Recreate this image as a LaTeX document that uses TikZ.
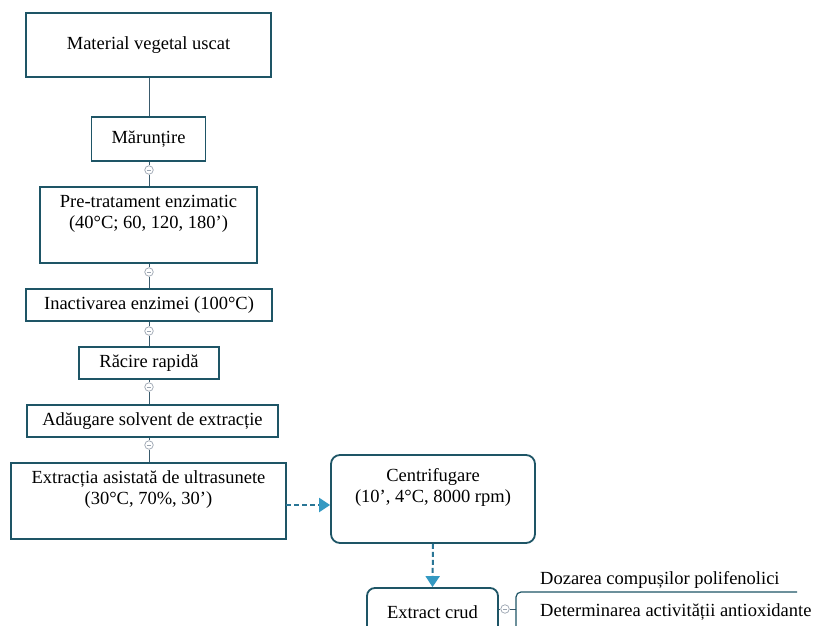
\documentclass[tikz,border=0pt]{standalone}
\usepackage{fontspec}
\setmainfont{Liberation Serif}
\usetikzlibrary{arrows.meta}
\definecolor{boxc}{HTML}{1E5566}
\definecolor{linec}{HTML}{3A5A6C}
\definecolor{dashc}{HTML}{2A7696}
\definecolor{headc}{HTML}{3499C2}
\definecolor{knobc}{HTML}{9AA4B0}
\tikzset{
  stepbox/.style={draw=boxc, line width=1.8pt, fill=white, align=center, inner sep=0pt, font=\fontsize{18.5}{20.5}\selectfont},
  roundbox/.style={stepbox, rounded corners=9pt},
  conn/.style={draw=linec, line width=0.9pt},
  knob/.style={circle, draw=knobc, fill=white, line width=0.7pt, minimum size=8.5pt, inner sep=0pt,
    path picture={\draw[knobc, line width=0.7pt] ([xshift=-2.2pt]path picture bounding box.center) -- ([xshift=2.2pt]path picture bounding box.center);}},
  dasharrow/.style={draw=dashc, line width=2pt, dash pattern=on 5pt off 3pt, -{Triangle[length=11pt,width=14pt,fill=headc,color=headc]}},
  plain/.style={font=\fontsize{18.5}{20.5}\selectfont, inner sep=0pt},
}
\begin{document}
\begin{tikzpicture}[x=1pt,y=-1pt]
\fill[white] (0,0) rectangle (816,626);
\useasboundingbox (0,0) rectangle (816,626);
\clip (0,0) rectangle (816,626);

\node[stepbox, minimum width=245pt, minimum height=64pt] (b1) at (148.5,45) {Material vegetal uscat};
\node[stepbox, minimum width=114pt, minimum height=44pt] (b2) at (148.5,139) {Mărunțire};
\node[stepbox, minimum width=217pt, minimum height=76pt] (b3) at (148.5,225) {Pre-tratament enzimatic\\(40°C; 60, 120, 180’)\\\strut};
\node[stepbox, minimum width=246pt, minimum height=32pt] (b4) at (149,305) {Inactivarea enzimei (100°C)};
\node[stepbox, minimum width=140pt, minimum height=32pt] (b5) at (149,363) {Răcire rapidă};
\node[stepbox, minimum width=251pt, minimum height=32pt] (b6) at (152.5,421) {Adăugare solvent de extracție};
\node[stepbox, minimum width=275pt, minimum height=76pt] (b7) at (148.5,501) {Extracția asistată de ultrasunete\\(30°C, 70\%, 30’)\\\strut};
\node[roundbox, minimum width=204pt, minimum height=88pt] (b8) at (433,499) {Centrifugare\\(10’, 4°C, 8000 rpm)\\\strut};
\node[roundbox, rounded corners=8pt, minimum width=131pt, minimum height=48pt] (b9) at (432.5,612) {Extract crud};

\node[knob] (k2) at (149,170) {};
\node[knob] (k3) at (149,272) {};
\node[knob] (k4) at (149,331) {};
\node[knob] (k5) at (149,387) {};
\node[knob] (k6) at (149,445) {};
\node[knob] (k9) at (505,609) {};

\draw[conn] (b1.south -| k2) -- (b2.north -| k2);
\draw[conn] (b2.south -| k2) -- (k2.north);
\draw[conn] (k2.south) -- (b3.north -| k2);
\draw[conn] (b3.south -| k3) -- (k3.north);
\draw[conn] (k3.south) -- (b4.north -| k3);
\draw[conn] (b4.south -| k4) -- (k4.north);
\draw[conn] (k4.south) -- (b5.north -| k4);
\draw[conn] (b5.south -| k5) -- (k5.north);
\draw[conn] (k5.south) -- (b6.north -| k5);
\draw[conn] (b6.south -| k6) -- (k6.north);
\draw[conn] (k6.south) -- (b7.north -| k6);

\coordinate (a1) at (286,505);
\draw[dasharrow] (a1) -- (a1 -| b8.west);
\draw[dasharrow] (b8.south) -- (b9.north);

% bracket
\coordinate (br) at (516,609);
\draw[conn] (b9.east |- k9) -- (k9.west);
\draw[conn] (k9.east) -- (br);
\draw[draw=boxc, line width=1.2pt, rounded corners=5pt] (516,640) -- (516,592) -- (797,592);

\node[plain, anchor=base west] (t1) at (540,584) {Dozarea compușilor polifenolici};
\node[plain, anchor=base west] (t2) at (540,616) {Determinarea activității antioxidante};
\end{tikzpicture}
\end{document}
